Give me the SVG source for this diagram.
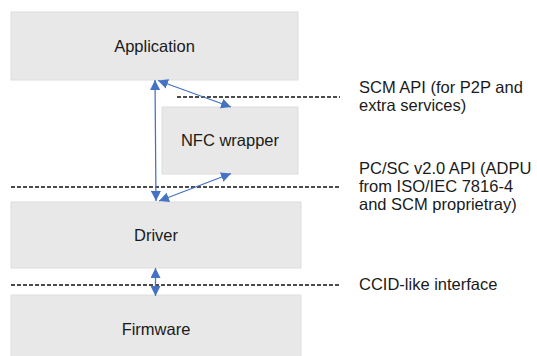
<svg xmlns="http://www.w3.org/2000/svg" width="537" height="356" viewBox="0 0 537 356">
  <style>
    .box { fill: #e8e8e8; stroke: #dedede; stroke-width: 1; }
    .lbl { font-family: "Liberation Sans", Arial, sans-serif; font-size: 16.5px; fill: #1a1a1a; }
    .mid { text-anchor: middle; }
    .iface { fill: none; stroke: #111; stroke-width: 1.5; stroke-dasharray: 4 2; }
    .link { fill: none; stroke: #4472c4; stroke-width: 1.25; marker-start: url(#head); marker-end: url(#head); }
  </style>
  <defs>
    <marker id="head" viewBox="0 0 10 10" refX="10" refY="5" markerWidth="10" markerHeight="10" markerUnits="userSpaceOnUse" orient="auto-start-reverse">
      <path d="M0,0 L10,5 L0,10 z" fill="#4472c4"/>
    </marker>
  </defs>

  <rect width="537" height="356" fill="#ffffff"/>

  <!-- layer boxes -->
  <g id="application">
    <rect class="box" x="11" y="12" width="287" height="68"/>
    <text class="lbl mid" x="154.5" y="51.5">Application</text>
  </g>
  <g id="nfc-wrapper">
    <rect class="box" x="162" y="107" width="136" height="67"/>
    <text class="lbl mid" x="230" y="146">NFC wrapper</text>
  </g>
  <g id="driver">
    <rect class="box" x="11" y="202" width="290" height="66"/>
    <text class="lbl mid" x="156" y="240.5">Driver</text>
  </g>
  <g id="firmware">
    <rect class="box" x="11" y="295" width="290" height="70"/>
    <text class="lbl mid" x="156" y="334.5">Firmware</text>
  </g>

  <!-- interface boundaries -->
  <g id="interfaces">
    <line class="iface" x1="177" y1="97" x2="340" y2="97"/>
    <line class="iface" x1="11" y1="187" x2="340" y2="187"/>
    <line class="iface" x1="11" y1="285" x2="340" y2="285"/>
  </g>

  <!-- interface descriptions -->
  <g id="interface-labels">
    <text class="lbl" x="359" y="93">SCM API (for P2P and</text>
    <text class="lbl" x="359" y="111">extra services)</text>
    <text class="lbl" x="359" y="173.5">PC/SC v2.0 API (ADPU</text>
    <text class="lbl" x="359" y="191.5">from ISO/IEC 7816-4</text>
    <text class="lbl" x="359" y="209.5">and SCM proprietray)</text>
    <text class="lbl" x="359" y="289.5">CCID-like interface</text>
  </g>

  <!-- connectors -->
  <g id="connectors">
    <line class="link" x1="155" y1="80" x2="156" y2="201"/>
    <line class="link" x1="158" y1="80.5" x2="231" y2="107"/>
    <line class="link" x1="159" y1="201" x2="231" y2="173.5"/>
    <line class="link" x1="155.5" y1="268" x2="155.5" y2="296"/>
  </g>
</svg>
